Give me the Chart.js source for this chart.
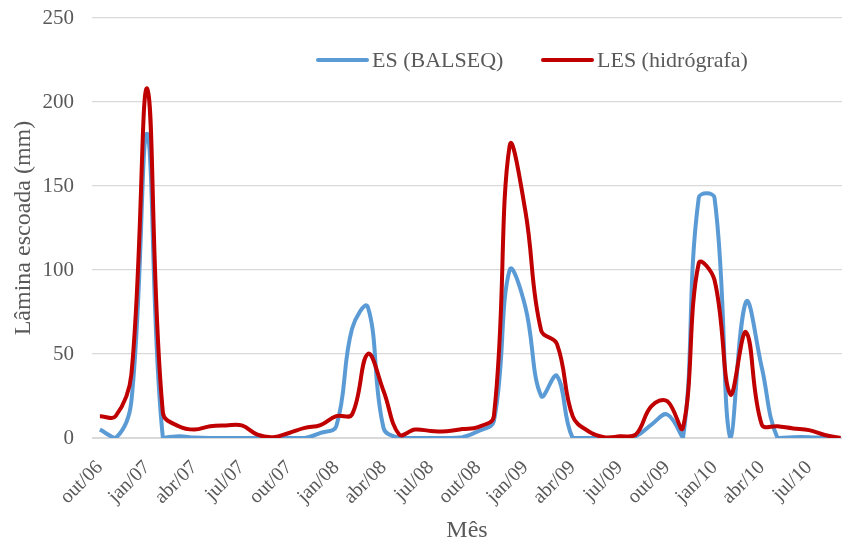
<!DOCTYPE html>
<html>
<head>
<meta charset="utf-8">
<script src="https://cdn.jsdelivr.net/npm/chart.js@4.4.1/dist/chart.umd.min.js"></script>
<style>
  body { margin: 0; background: #fff; }
</style>
</head>
<body>
<canvas id="grafico" width="842" height="542"></canvas>
<script>
// meses (out/06 a set/10)
const meses = [
  'out/06','nov/06','dez/06','jan/07','fev/07','mar/07','abr/07','mai/07','jun/07','jul/07','ago/07','set/07',
  'out/07','nov/07','dez/07','jan/08','fev/08','mar/08','abr/08','mai/08','jun/08','jul/08','ago/08','set/08',
  'out/08','nov/08','dez/08','jan/09','fev/09','mar/09','abr/09','mai/09','jun/09','jul/09','ago/09','set/09',
  'out/09','nov/09','dez/09','jan/10','fev/10','mar/10','abr/10','mai/10','jun/10','jul/10','ago/10','set/10'
];

// lâmina escoada (mm)
const es = [
  5, 0, 22, 181, 0, 1, 0.3, 0, 0, 0, 0, 0,
  0, 0, 3, 7, 65, 78, 6, 0, 0, 0, 0, 0.5,
  4, 10, 100, 78, 25, 37, 0, 0, 0, 0, 1, 8,
  14, 0, 143, 143, 0, 81, 42, 0, 0.5, 0.5, 0, 0
];
const les = [
  13, 13, 38, 208, 15, 7, 5, 7, 7.5, 7.5, 2, 0.5,
  3, 6, 7.7, 13, 14, 50, 28, 2, 5, 4.2, 4, 5.3,
  6.5, 13, 174, 135, 64, 56, 13, 4, 0.5, 1, 2, 19,
  22, 6, 104, 94, 26, 63, 8, 7, 5.7, 4.7, 1.8, 0
];

const fonte = "'Liberation Serif', 'Times New Roman', serif";
const cinza = '#595959';

const pontos = arr => arr.map((v, i) => ({ x: i, y: v }));

// legenda desenhada dentro da área do gráfico
const legendaPlugin = {
  id: 'legenda',
  afterDraw(chart) {
    const ctx = chart.ctx;
    const itens = [
      { x: 318, ds: chart.data.datasets[0] },
      { x: 543, ds: chart.data.datasets[1] }
    ];
    ctx.save();
    ctx.font = '22px ' + fonte;
    ctx.fillStyle = cinza;
    ctx.textBaseline = 'middle';
    ctx.lineCap = 'round';
    itens.forEach(it => {
      ctx.strokeStyle = it.ds.borderColor;
      ctx.lineWidth = 4;
      ctx.beginPath();
      ctx.moveTo(it.x, 60);
      ctx.lineTo(it.x + 49, 60);
      ctx.stroke();
      ctx.fillText(it.ds.label, it.x + 54, 61);
    });
    ctx.restore();
  }
};

new Chart(document.getElementById('grafico'), {
  type: 'line',
  data: {
    datasets: [
      {
        label: 'ES (BALSEQ)',
        data: pontos(es),
        borderColor: '#5B9BD5',
        borderWidth: 4,
        pointRadius: 0,
        tension: 0.4,
        order: 1
      },
      {
        label: 'LES (hidrógrafa)',
        data: pontos(les),
        borderColor: '#C00000',
        borderWidth: 4,
        pointRadius: 0,
        tension: 0.4,
        order: 0
      }
    ]
  },
  options: {
    responsive: false,
    animation: false,
    layout: { padding: { left: 0, right: 0, top: 18, bottom: 0 } },
    plugins: {
      legend: { display: false },
      tooltip: { enabled: false }
    },
    scales: {
      x: {
        type: 'linear',
        min: -0.5,
        max: 47.09,
        grid: { display: false, drawTicks: false },
        border: { display: true, color: '#d9d9d9', width: 1 },
        afterBuildTicks(scale) {
          scale.ticks = meses.map((m, i) => ({ value: i })).filter(t => t.value % 3 === 0);
        },
        ticks: {
          autoSkip: false,
          minRotation: 45,
          maxRotation: 45,
          padding: 18,
          color: cinza,
          font: { family: fonte, size: 20 },
          callback: v => meses[v]
        },
        title: {
          display: true,
          text: 'Mês',
          color: cinza,
          font: { family: fonte, size: 24, lineHeight: 1 },
          padding: { top: 0, bottom: -1 }
        },
        afterFit(scale) {
          scale.height = 104;
          scale.paddingLeft = 0;
          scale.paddingRight = 0;
        }
      },
      y: {
        min: 0,
        max: 250,
        grid: { color: '#d9d9d9', lineWidth: 1.3, drawTicks: false },
        border: { display: false },
        ticks: {
          stepSize: 50,
          padding: 18,
          color: cinza,
          font: { family: fonte, size: 21 }
        },
        title: {
          display: true,
          text: 'Lâmina escoada (mm)',
          color: cinza,
          font: { family: fonte, size: 24 },
          padding: { top: 9, bottom: 0 }
        },
        afterFit(scale) {
          scale.width = 92;
          scale.paddingTop = 0;
          scale.paddingBottom = 0;
        }
      }
    }
  },
  plugins: [legendaPlugin]
});
</script>
</body>
</html>
